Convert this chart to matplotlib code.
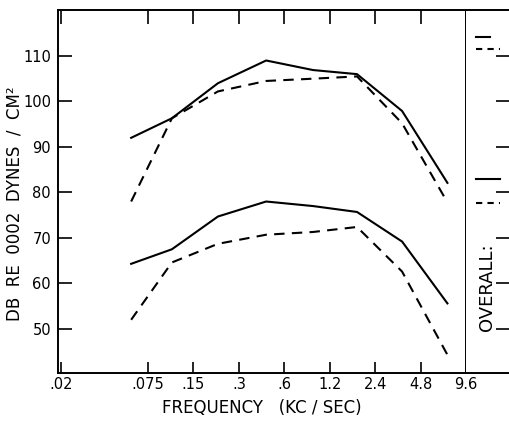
import matplotlib
matplotlib.use("Agg")
import matplotlib.pyplot as plt

# octave-band readings (KC/SEC) and levels (dB re .0002 dynes/cm2)
freq = [0.058, 0.108, 0.218, 0.455, 0.93, 1.82, 3.62, 7.23]
upper_solid = [92.0, 96.3, 104.0, 109.0, 106.9, 106.0, 97.9, 82.1]
upper_dashed = [78.0, 96.3, 102.2, 104.5, 105.0, 105.5, 95.2, 77.8]
lower_solid = [64.3, 67.5, 74.7, 78.0, 77.0, 75.7, 69.2, 55.6]
lower_dashed = [52.0, 64.6, 68.7, 70.7, 71.3, 72.4, 62.6, 44.3]

# overall levels shown in the side strip
overall_solid = [114.2, 83.0]
overall_dashed = [111.5, 77.7]

xticks = [0.02, 0.075, 0.15, 0.3, 0.6, 1.2, 2.4, 4.8, 9.6]
xticklabels = [".02", ".075", ".15", ".3", ".6", "1.2", "2.4", "4.8", "9.6"]
yticks = [50, 60, 70, 80, 90, 100, 110]

plt.rcParams.update({"font.family": "DejaVu Sans", "font.size": 10.5})

W, H = 510, 421
fig = plt.figure(figsize=(W / 100, H / 100), dpi=100)

L, R, T, B = 58, 466, 10, 373
ax = fig.add_axes([L / W, 1 - B / H, (R - L) / W, (B - T) / H])
side = fig.add_axes([R / W, 1 - B / H, (W - R) / W, (B - T) / H], sharey=ax)

dash = (0, (5, 3.5))
for ys, st in [(upper_solid, "-"), (upper_dashed, dash),
               (lower_solid, "-"), (lower_dashed, dash)]:
    ax.plot(freq, ys, color="black", lw=1.5, ls=st)

ax.set_xscale("log", base=2)
ax.set_xlim(0.019, 9.6)
ax.set_ylim(40.3, 120.1)
ax.set_xticks(xticks)
ax.set_xticklabels(xticklabels)
ax.minorticks_off()
ax.set_yticks(yticks)
ax.tick_params(axis="x", which="both", direction="in", length=8, width=1.2,
               top=True, pad=3)
for t in ax.xaxis.get_major_ticks():
    t.tick2line.set_markersize(10)
ax.tick_params(axis="y", direction="in", length=10, width=1.2, right=False,
               pad=5)
for s in ax.spines.values():
    s.set_linewidth(1.4)
ax.set_xlabel("FREQUENCY   (KC / SEC)", fontsize=12, labelpad=5)
fig.text(15 / W, 1 - 204 / H, "DB  RE  0002  DYNES  /  CM²", rotation=90,
         ha="center", va="center", fontsize=12)

# side strip with overall levels
side.set_xlim(0, 1)
for y in overall_solid:
    side.plot([0.23, 0.77 if y < 100 else 0.55], [y, y], color="black", lw=1.5)
for y in overall_dashed:
    side.plot([0.23, 0.77], [y, y], color="black", lw=1.5, ls=(0, (3, 2.5)))
side.spines["left"].set_visible(False)
side.spines["right"].set_visible(False)
side.spines["top"].set_linewidth(1.4)
side.spines["bottom"].set_linewidth(1.4)
side.set_xticks([])
side.tick_params(axis="y", left=False, right=True, labelleft=False,
                 direction="in", length=10, width=1.2)
side.text(0.48, 59.2, "OVERALL:", rotation=90, ha="center", va="center",
          fontsize=13)

fig.savefig("out.png", dpi=100)
